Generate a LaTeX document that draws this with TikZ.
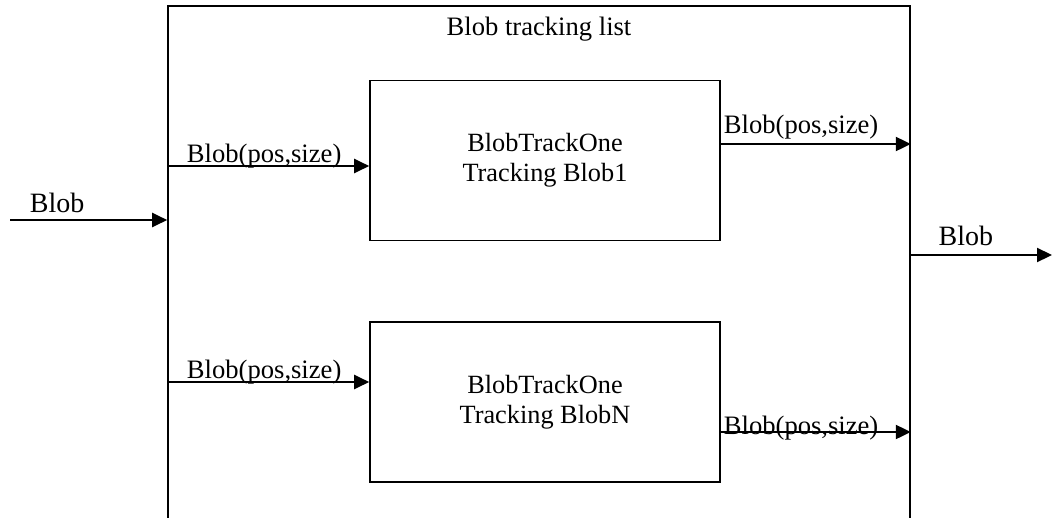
\documentclass[tikz,border=0pt]{standalone}
\usepackage{fontspec}
\setmainfont{Liberation Serif}
\usepackage{tikz}
\usetikzlibrary{arrows.meta}
\usetikzlibrary{positioning}
\tikzstyle{frame} = [draw=black, line width=1.6pt, minimum width=742pt, minimum height=600pt, inner sep=0pt]
\tikzstyle{tracker} = [rectangle, draw=black, line width=1.6pt, minimum width=350pt, minimum height=160pt, inner sep=0pt, align=center, font=\fontsize{26.3}{30}\selectfont]
\tikzstyle{lbl} = [inner sep=0pt, font=\fontsize{26.6}{30}\selectfont]
\tikzstyle{biglbl} = [inner sep=0pt, font=\fontsize{28}{32}\selectfont]
\tikzstyle{arrow} = [line width=2.2pt, -{Triangle[length=15pt,width=14pt]}]

\begin{document}
\begin{tikzpicture}[x=1pt,y=-1pt]
                            \useasboundingbox (0,0) rectangle (1052,517);
                            \clip (0,0) rectangle (1052,517);
                            \node [frame] (list) at (539,306) {};
                            \node [lbl] (title) at (539,29) {Blob tracking list};
                            \node [tracker] (one) at (545,160.5) {BlobTrackOne\\Tracking Blob1};
                            \node [tracker] (many) at (545,402) {BlobTrackOne\\Tracking BlobN};
                            \coordinate (blobin) at (10,220);
                            \coordinate (blobout) at (1052,255);
                            % into the list
                            \draw [arrow] (blobin) -- (list.west |- blobin)
                                node [biglbl, pos=0.3, anchor=base, yshift=8pt] {Blob};
                            \draw [arrow] (list.west |- 0,166) -- (one.west |- 0,166)
                                node [lbl, pos=0.48, anchor=base, yshift=4pt] {Blob(pos,size)};
                            \draw [arrow] (list.west |- 0,382) -- (many.west |- 0,382)
                                node [lbl, pos=0.48, anchor=base, yshift=4pt] {Blob(pos,size)};
                            % out of the trackers
                            \draw [arrow] (one.east |- 0,144) -- (list.east |- 0,144)
                                node [lbl, pos=0, anchor=base west, yshift=11pt, xshift=2pt] {Blob(pos,size)};
                            \draw [arrow] (many.east |- 0,432) -- (list.east |- 0,432)
                                node [lbl, pos=0, anchor=mid west, xshift=2pt] {Blob(pos,size)};
                            \draw [arrow] (list.east |- blobout) -- (blobout)
                                node [biglbl, pos=0.39, anchor=base, yshift=10pt] {Blob};
                        \end{tikzpicture}
\end{document}
